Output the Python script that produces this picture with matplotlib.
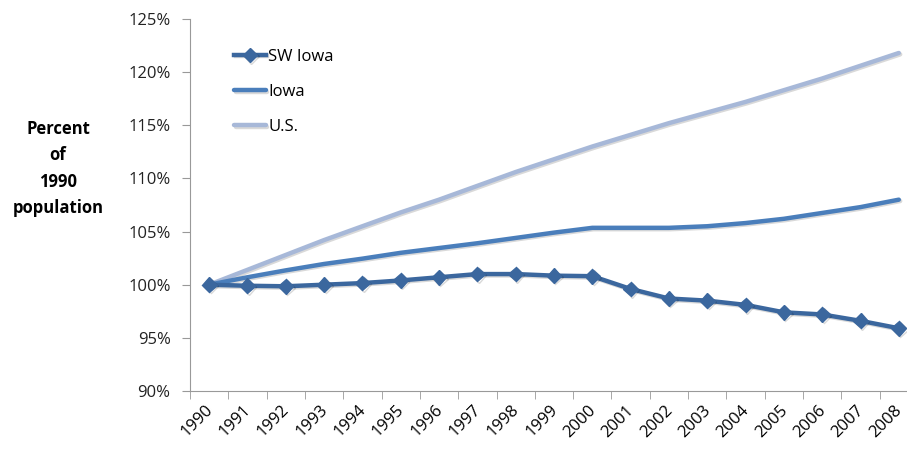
import matplotlib
matplotlib.use("Agg")
import matplotlib.pyplot as plt
import matplotlib.patheffects as pe

years = [str(y) for y in range(1990, 2009)]
sw_iowa = [100.0, 99.9, 99.85, 100.0, 100.15, 100.4, 100.7, 101.0, 101.0, 100.85,
           100.8, 99.6, 98.7, 98.5, 98.1, 97.4, 97.2, 96.6, 95.9]
iowa = [100.0, 100.7, 101.35, 101.95, 102.45, 103.0, 103.45, 103.9, 104.4, 104.9,
        105.35, 105.35, 105.35, 105.5, 105.8, 106.2, 106.75, 107.3, 108.0]
us = [100.0, 101.4, 102.8, 104.2, 105.5, 106.8, 108.0, 109.3, 110.6, 111.8,
      113.0, 114.1, 115.2, 116.2, 117.2, 118.3, 119.4, 120.6, 121.8]

plt.rcParams['font.family'] = ['Open Sans', 'DejaVu Sans']

fig = plt.figure(figsize=(9.07, 4.55), dpi=100)
ax = fig.add_axes([0.2095, 0.1407, 0.8026, 0.8176])

x = range(len(years))
shadow = [pe.SimpleLineShadow(offset=(1, -1), alpha=0.15), pe.Normal()]
ax.plot(x, us, color='#A7B8D8', lw=3.2, label='U.S.', path_effects=shadow, solid_capstyle='round')
ax.plot(x, iowa, color='#4A7EBB', lw=3.2, label='Iowa', path_effects=shadow, solid_capstyle='round')
ax.plot(x, sw_iowa, color='#3B679E', lw=3.2, marker='D', markersize=7.5,
        label='SW Iowa', path_effects=shadow)

ax.set_xlim(-0.5, len(years) - 0.5)
ax.set_ylim(90, 125)
ax.set_yticks(range(90, 126, 5))
ax.set_yticklabels(['%d%%' % v for v in range(90, 126, 5)], fontsize=12, color='#222222')

# label anchors nudged a bit left of each category so rotated text ends near the point
ax.set_xticks([i - 0.12 for i in x])
ax.set_xticklabels(years, rotation=45, ha='right', rotation_mode='anchor', fontsize=12)
ax.set_xticks([i - 0.5 for i in range(len(years) + 1)], minor=True)
ax.tick_params(axis='x', which='major', length=0, pad=8)
ax.tick_params(axis='x', which='minor', length=6, color='#999999', direction='out')
ax.tick_params(axis='y', length=6, color='#999999', direction='out', pad=8)

for s in ['top', 'right']:
    ax.spines[s].set_visible(False)
ax.spines['left'].set_color('#999999')
ax.spines['bottom'].set_color('#999999')

handles, labels = ax.get_legend_handles_labels()
ax.legend(handles[::-1], labels[::-1], loc='upper left', bbox_to_anchor=(0.04, 0.96),
          frameon=False, fontsize=12, handlelength=1.9, handletextpad=0.15, labelspacing=1.15)

fig.text(0.064, 0.63, 'Percent\nof\n1990\npopulation', ha='center', va='center',
         fontsize=12, fontweight='bold', linespacing=1.6)

fig.savefig('out.png', dpi=100)
